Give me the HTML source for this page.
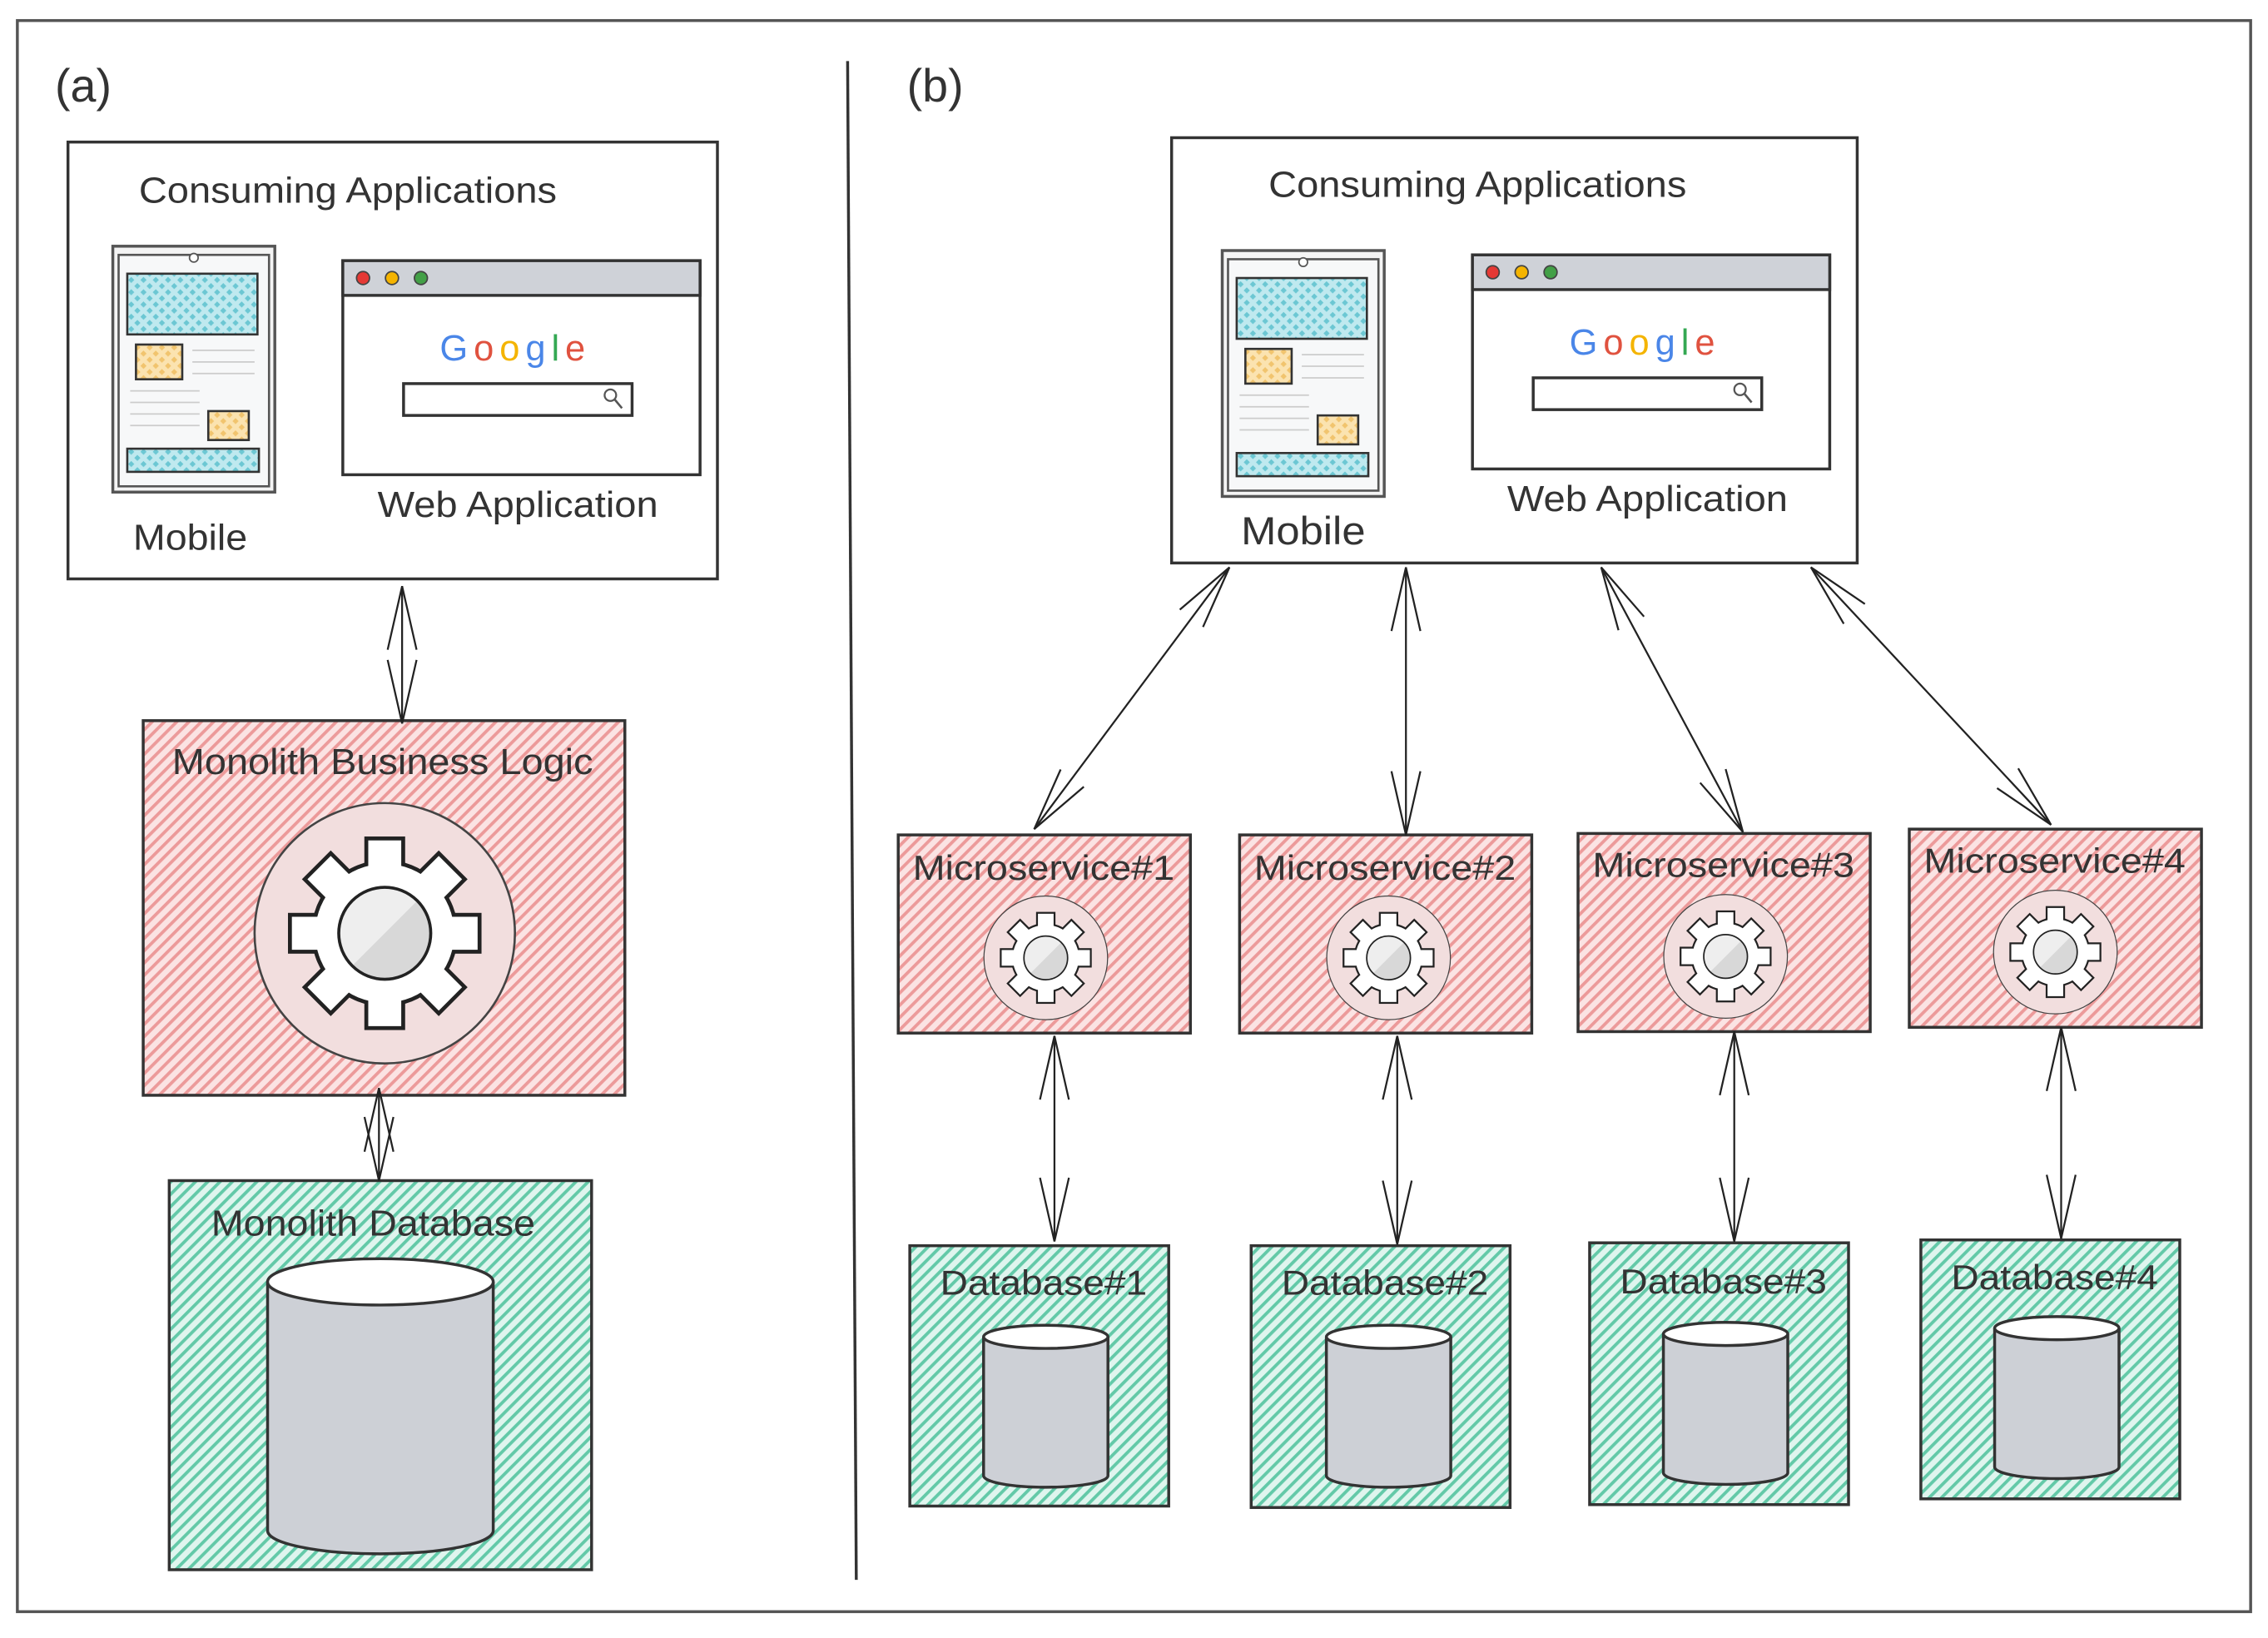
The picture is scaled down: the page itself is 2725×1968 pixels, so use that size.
<!DOCTYPE html>
<html><head><meta charset="utf-8"><style>html,body{margin:0;padding:0;background:#fff}svg{display:block}text{font-family:"Liberation Sans",sans-serif;fill:#333}</style></head>
<body>
<svg width="2725" height="1968" viewBox="0 0 1568 1132" xmlns="http://www.w3.org/2000/svg">
<defs>
<pattern id="pk" width="6" height="6" patternUnits="userSpaceOnUse" patternTransform="rotate(45)"><rect width="6" height="6" fill="#fbe3e3"/><rect width="2.2" height="6" fill="#ec9a9a"/></pattern>
<pattern id="gr" width="6" height="6" patternUnits="userSpaceOnUse" patternTransform="rotate(45)"><rect width="6" height="6" fill="#dff5ee"/><rect width="2.2" height="6" fill="#63c9a8"/></pattern>
<pattern id="cy" width="6" height="6" patternUnits="userSpaceOnUse" patternTransform="rotate(45)"><rect width="6" height="6" fill="#bfe9ef"/><rect width="3" height="3" fill="#6cc7d3"/></pattern>
<pattern id="ye" width="6" height="6" patternUnits="userSpaceOnUse" patternTransform="rotate(45)"><rect width="6" height="6" fill="#fbe3b0"/><rect width="3" height="3" fill="#f1c46e"/></pattern>
<pattern id="lg" width="5" height="5" patternUnits="userSpaceOnUse" patternTransform="rotate(45)"><rect width="5" height="5" fill="#eeeeee"/><rect width="1" height="5" fill="#d8d8d8"/></pattern>
<marker id="ah" markerWidth="50" markerHeight="26" refX="0" refY="0" viewBox="-46 -13 47 26" orient="auto-start-reverse" markerUnits="userSpaceOnUse"><path d="M-44,-10 L0,0 L-44,10" fill="none" stroke="#222" stroke-width="1.3"/></marker>
<g id="gshape">
  <rect x="-0.19" y="-1.07" width="0.38" height="0.5"/>
  <rect x="-0.19" y="-1.07" width="0.38" height="0.5" transform="rotate(45)"/>
  <rect x="-0.19" y="-1.07" width="0.38" height="0.5" transform="rotate(90)"/>
  <rect x="-0.19" y="-1.07" width="0.38" height="0.5" transform="rotate(135)"/>
  <rect x="-0.19" y="-1.07" width="0.38" height="0.5" transform="rotate(180)"/>
  <rect x="-0.19" y="-1.07" width="0.38" height="0.5" transform="rotate(225)"/>
  <rect x="-0.19" y="-1.07" width="0.38" height="0.5" transform="rotate(270)"/>
  <rect x="-0.19" y="-1.07" width="0.38" height="0.5" transform="rotate(315)"/>
  <circle r="0.8"/>
</g>
<g id="gear">
 <circle r="1.5" fill="#f2dede" stroke="#444" stroke-width="0.025"/>
 <use href="#gshape" fill="#222" stroke="#222" stroke-width="0.09"/>
 <use href="#gshape" fill="#fff"/>
 <circle r="0.53" fill="url(#lg)" stroke="#222" stroke-width="0.035"/>
</g>
<g id="mobile">
 <rect x="0" y="0" width="112" height="170" fill="#f4f4f4" stroke="#555" stroke-width="2"/>
 <rect x="4" y="6" width="104" height="160" fill="#f7f8f9" stroke="#555" stroke-width="1.5"/>
 <circle cx="56" cy="8" r="3" fill="#fff" stroke="#555"/>
 <rect x="10" y="19" width="90" height="42" fill="url(#cy)" stroke="#333" stroke-width="1.5"/>
 <rect x="16" y="68" width="32" height="24" fill="url(#ye)" stroke="#333" stroke-width="1.5"/>
 <rect x="66" y="114" width="28" height="20" fill="url(#ye)" stroke="#333" stroke-width="1.5"/>
 <rect x="10" y="140" width="91" height="16" fill="url(#cy)" stroke="#333" stroke-width="1.5"/>
 <g stroke="#ccc" stroke-width="1"><line x1="55" y1="72" x2="98" y2="72"/><line x1="55" y1="80" x2="98" y2="80"/><line x1="55" y1="88" x2="98" y2="88"/><line x1="12" y1="100" x2="60" y2="100"/><line x1="12" y1="108" x2="60" y2="108"/><line x1="12" y1="116" x2="60" y2="116"/><line x1="12" y1="124" x2="60" y2="124"/></g>
</g>
<g id="browser">
 <rect x="0" y="0" width="247" height="148" fill="#fff" stroke="#333" stroke-width="2"/>
 <rect x="0" y="0" width="247" height="24" fill="#cfd2d8" stroke="#333" stroke-width="2"/>
 <circle cx="14" cy="12" r="4.5" fill="#e53935" stroke="#444"/>
 <circle cx="34" cy="12" r="4.5" fill="#f5b400" stroke="#444"/>
 <circle cx="54" cy="12" r="4.5" fill="#43a047" stroke="#444"/>
 <text x="67" y="69" font-size="25" letter-spacing="4"><tspan style="fill:#4a86e8">G</tspan><tspan style="fill:#e0523f">o</tspan><tspan style="fill:#f4b400">o</tspan><tspan style="fill:#4a86e8">g</tspan><tspan style="fill:#34a853">l</tspan><tspan style="fill:#e0523f">e</tspan></text>
 <rect x="42" y="85" width="158" height="22" fill="#fff" stroke="#333" stroke-width="2"/>
 <circle cx="185" cy="93" r="4" fill="none" stroke="#555" stroke-width="1.3"/><line x1="188" y1="96" x2="193" y2="102" stroke="#555" stroke-width="1.5"/>
</g>
<g id="cylS">
 <path d="M-43,0 L-43,96 A43,8 0 0 0 43,96 L43,0" fill="#cdd0d6" stroke="#333" stroke-width="2"/>
 <ellipse cx="0" cy="0" rx="43" ry="8" fill="#fff" stroke="#333" stroke-width="2"/>
</g>
</defs>

<rect x="12" y="14" width="1544" height="1100" fill="#fff" stroke="#555" stroke-width="2"/>
<line x1="586" y1="42" x2="592" y2="1092" stroke="#333" stroke-width="2"/>
<text x="38" y="70" font-size="32">(a)</text>
<text x="627" y="70" font-size="32">(b)</text>

<!-- (a) -->
<rect x="47" y="98" width="449" height="302" fill="#fff" stroke="#333" stroke-width="2"/>
<text x="96" y="140" font-size="25" textLength="289" lengthAdjust="spacingAndGlyphs">Consuming Applications</text>
<use href="#mobile" x="78" y="170"/>
<use href="#browser" x="237" y="180"/>
<text x="92" y="380" font-size="25" textLength="79" lengthAdjust="spacingAndGlyphs">Mobile</text>
<text x="261" y="357" font-size="25" textLength="194" lengthAdjust="spacingAndGlyphs">Web Application</text>

<rect x="99" y="498" width="333" height="259" fill="url(#pk)" stroke="#333" stroke-width="2"/>
<text x="119" y="535" font-size="25" textLength="291" lengthAdjust="spacingAndGlyphs">Monolith Business Logic</text>
<use href="#gear" transform="translate(266,645) scale(60)"/>

<rect x="117" y="816" width="292" height="269" fill="url(#gr)" stroke="#333" stroke-width="2"/>
<text x="146" y="854" font-size="25" textLength="224" lengthAdjust="spacingAndGlyphs">Monolith Database</text>
<path d="M185,886 L185,1058 A78,16 0 0 0 341,1058 L341,886" fill="#cdd0d6" stroke="#333" stroke-width="2"/>
<ellipse cx="263" cy="886" rx="78" ry="16" fill="#fff" stroke="#333" stroke-width="2"/>

<g stroke="#222" stroke-width="1.3" fill="none" marker-start="url(#ah)" marker-end="url(#ah)">
<line x1="278" y1="405" x2="278" y2="500"/>
<line x1="262" y1="752" x2="262" y2="816"/>
</g>

<!-- (b) -->
<rect x="810" y="95" width="474" height="294" fill="#fff" stroke="#333" stroke-width="2"/>
<text x="877" y="136" font-size="25" textLength="289" lengthAdjust="spacingAndGlyphs">Consuming Applications</text>
<use href="#mobile" x="845" y="173"/>
<use href="#browser" x="1018" y="176"/>
<text x="858" y="376" font-size="27" textLength="86" lengthAdjust="spacingAndGlyphs">Mobile</text>
<text x="1042" y="353" font-size="25" textLength="194" lengthAdjust="spacingAndGlyphs">Web Application</text>

<g stroke="#333" stroke-width="2">
<rect x="621" y="577" width="202" height="137" fill="url(#pk)"/>
<rect x="857" y="577" width="202" height="137" fill="url(#pk)"/>
<rect x="1091" y="576" width="202" height="137" fill="url(#pk)"/>
<rect x="1320" y="573" width="202" height="137" fill="url(#pk)"/>
<rect x="629" y="861" width="179" height="180" fill="url(#gr)"/>
<rect x="865" y="861" width="179" height="181" fill="url(#gr)"/>
<rect x="1099" y="859" width="179" height="181" fill="url(#gr)"/>
<rect x="1328" y="857" width="179" height="179" fill="url(#gr)"/>
</g>
<g font-size="24" lengthAdjust="spacingAndGlyphs">
<text x="631" y="608" textLength="181" lengthAdjust="spacingAndGlyphs">Microservice#1</text>
<text x="867" y="608" textLength="181" lengthAdjust="spacingAndGlyphs">Microservice#2</text>
<text x="1101" y="606" textLength="181" lengthAdjust="spacingAndGlyphs">Microservice#3</text>
<text x="1330" y="603" textLength="181" lengthAdjust="spacingAndGlyphs">Microservice#4</text>
<text x="650" y="895" textLength="143" lengthAdjust="spacingAndGlyphs">Database#1</text>
<text x="886" y="895" textLength="143" lengthAdjust="spacingAndGlyphs">Database#2</text>
<text x="1120" y="894" textLength="143" lengthAdjust="spacingAndGlyphs">Database#3</text>
<text x="1349" y="891" textLength="143" lengthAdjust="spacingAndGlyphs">Database#4</text>
</g>
<use href="#gear" transform="translate(723,662) scale(28.5)"/>
<use href="#gear" transform="translate(960,662) scale(28.5)"/>
<use href="#gear" transform="translate(1193,661) scale(28.5)"/>
<use href="#gear" transform="translate(1421,658) scale(28.5)"/>
<use href="#cylS" x="723" y="924"/>
<use href="#cylS" x="960" y="924"/>
<use href="#cylS" x="1193" y="922"/>
<use href="#cylS" x="1422" y="918"/>

<g stroke="#222" stroke-width="1.3" fill="none" marker-start="url(#ah)" marker-end="url(#ah)">
<line x1="850" y1="392" x2="715" y2="573"/>
<line x1="972" y1="392" x2="972" y2="577"/>
<line x1="1107" y1="392" x2="1205" y2="575"/>
<line x1="1252" y1="392" x2="1418" y2="570"/>
<line x1="729" y1="716" x2="729" y2="858"/>
<line x1="966" y1="716" x2="966" y2="860"/>
<line x1="1199" y1="713" x2="1199" y2="858"/>
<line x1="1425" y1="710" x2="1425" y2="856"/>
</g>
</svg>
</body></html>
